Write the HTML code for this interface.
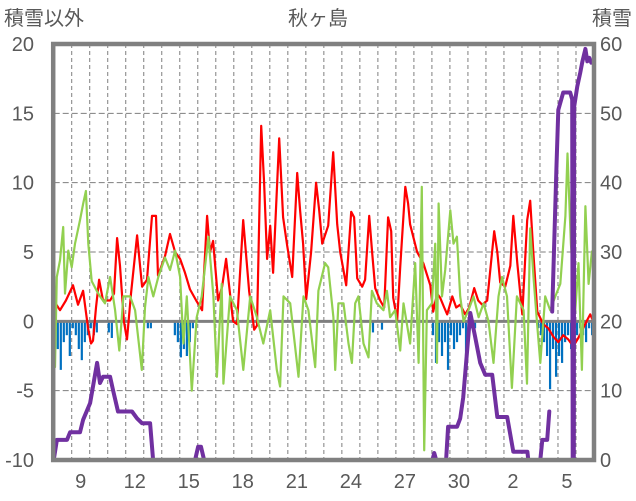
<!DOCTYPE html>
<html><head><meta charset="utf-8"><style>
body{margin:0;background:#fff;}
svg{display:block;font-family:"Liberation Sans","Noto Sans CJK JP",sans-serif;}
</style></head><body>
<svg id="chart" width="636" height="501" viewBox="0 0 636 501" xmlns="http://www.w3.org/2000/svg">
<text x="4" y="25" font-size="20" fill="#595959">積雪以外</text>
<text x="318" y="25" font-size="20" fill="#595959" text-anchor="middle">秋ヶ島</text>
<text x="632" y="25" font-size="20" fill="#595959" text-anchor="end">積雪</text>
<g id="grid"></g>
<g id="bars"></g>
<g id="lines"></g>
<g id="axes"></g>
</svg>
<script>
const xTickLabels = ["9","12","15","18","21","24","27","30","2","5"];
const xTickDays = [1,4,7,10,13,16,19,22,25,28];
const leftTicks = [20,15,10,5,0,-5,-10];
const rightTicks = [60,50,40,30,20,10,0];

const redDays = [0,0.35,0.68,1.07,1.35,1.63,1.91,2.07,2.18,2.35,2.52,2.74,3.13,3.35,3.52,3.68,3.9,4.07,4.29,4.63,4.91,5.18,5.46,5.68,5.79,6.18,6.46,6.74,7.02,7.29,7.57,7.91,8.24,8.52,8.68,8.85,9.13,9.35,9.57,9.79,9.96,10.18,10.52,10.85,11.13,11.29,11.52,11.68,11.85,12.02,12.18,12.52,12.74,12.96,13.24,13.52,13.68,13.85,14.02,14.29,14.57,14.74,14.91,15.24,15.52,15.74,15.91,16.24,16.52,16.68,16.85,17.13,17.29,17.52,17.68,17.85,18.13,18.35,18.57,18.74,18.85,19.07,19.24,19.52,19.68,19.79,20.18,20.52,20.91,21.07,21.29,21.46,21.68,21.85,22.13,22.35,22.57,22.85,23.07,23.35,23.57,23.79,24.07,24.46,24.63,24.79,25.07,25.35,25.52,25.74,26.02,26.29,26.46,26.63,26.85,27.18,27.46,27.74,28.02,28.29,28.57,28.85,29.13,29.4,29.63,29.79,29.96];
const redVals = [1.5,0.8,1.5,2.6,1.2,2.2,-0.5,-1.6,-1.4,1,3,1.5,1.5,2,6,4,0,-1.3,2,6.2,2.5,3,7.6,7.6,3.3,4.7,6.3,5,4.5,3.5,2.3,1.5,0.8,7.6,5,5.8,1.5,2.5,4.5,2,0,-0.2,7.3,2.2,-0.6,-0.3,14.1,10,4.5,6.9,3.5,13.2,7.5,5.5,3.2,10.7,8,5.6,1.6,5,10,8,5.6,6.9,12.2,7,5,2.6,7.9,7.5,3.1,2.5,3,7.6,5,2.4,1.5,1,7.5,6.5,1.7,0.1,3.9,9.7,8.5,7,5,4.2,2.6,0.7,2,1.7,1,0.5,1.8,1,1.2,0.5,1,2.4,1.5,1.2,1.5,6.5,5,2.8,2.5,4,7.6,4.2,0.5,7.3,8.7,5,0.7,-0.2,-0.5,-1.1,-1.5,-1,-1.3,-1.8,-1.2,-0.5,0.1,0.5,0];

const greenDays = [0,0.07,0.17,0.35,0.53,0.63,0.81,1.0,1.18,1.46,1.64,1.79,1.92,2.11,2.39,2.57,2.85,3.13,3.41,3.64,3.87,4.24,4.52,4.89,5.07,5.26,5.53,5.81,6.18,6.46,6.74,7.02,7.2,7.39,7.67,7.94,8.22,8.59,8.87,9.06,9.33,9.42,9.79,10.17,10.53,10.91,11.28,11.64,12.02,12.39,12.57,12.76,13.13,13.59,13.87,14.14,14.52,14.7,15.07,15.24,15.53,15.63,15.81,16.09,16.37,16.56,16.74,16.92,17.2,17.48,17.67,17.94,18.31,18.5,18.68,18.96,19.24,19.42,19.79,20.07,20.26,20.44,20.57,20.72,21.0,21.18,21.28,21.37,21.56,21.74,22.02,22.2,22.39,22.57,22.76,23.03,23.31,23.59,23.87,24.14,24.42,24.7,24.89,25.17,25.44,25.72,26.09,26.28,26.46,26.64,26.83,27.02,27.29,27.57,27.85,28.13,28.41,28.53,28.72,28.96,29.14,29.33,29.52,29.7,29.89];
const greenVals = [7.8,-3.3,3.2,4.4,6.8,2,5.1,3.9,5.6,7.3,8.5,9.4,5.6,2.9,2.2,1.8,1.3,3.2,0.8,-2.1,1.8,1.8,0.8,-3.5,1,3.2,1.8,3.2,4.6,3.7,5.1,3.2,-1.6,1.8,-5,0.3,1.8,6.1,1.8,-4,2.7,-4.5,1.8,0.8,-3.5,1.8,0.3,-1.6,0.8,-3.5,-4.7,1.8,1.3,-4,1.8,0.8,-3.3,2.2,4.2,3.9,0.3,-3.5,1.3,1.3,-1.6,-3,1.3,1.8,-1.6,-2.6,2.2,1.3,0.8,2.2,0.3,0.8,-2.1,1.3,-1.6,4.2,-3,9.7,-9.3,0.8,1.3,5.6,-3,8.5,1.8,3.7,8,5.6,6.1,1.8,0,0.8,1.8,0.3,1.3,0,-3,1.8,3.2,1.8,-4.8,1.8,0.8,-4.5,6.7,3.2,0,-3,1.8,0.8,1.8,2.7,7.6,12.1,5.6,0.8,4.2,-3.5,8.3,2.7,5.1];

const snowDays = [0,0.18,0.74,0.91,1.46,1.63,2.02,2.41,2.57,2.74,3.13,3.29,3.57,4.35,4.63,4.91,5.35,5.52,7.85,8.02,8.18,8.35,21.02,21.13,21.24,21.79,21.9,22.4,22.57,22.74,22.96,23.13,23.4,23.68,23.96,24.35,24.63,25.18,25.52,26.3,26.35,27.02,27.13,27.4,27.52,27.6,27.68,27.91,28.02,28.29,28.68,28.79,28.82,28.88,28.9,29.07,29.24,29.35,29.52,29.63,29.74,29.85];
const snowVals = [0,2.9,2.9,4,4,5.8,8.2,14,11.1,12,12,10.1,7,7,6,5.3,5.3,0,0,1.9,1.9,0,0,1,0,0,4.8,4.8,6,9,15.9,21.2,17.8,14,12.3,12.3,6.2,6.2,1.2,1.2,0,0,2.9,2.9,7,null,21.4,42,50.5,53,53,52,0,0,51,53.9,55.9,57.4,59.3,57.5,58,57.3];

const blueVals = [-1,-2,-3.5,-1.5,-1,-2.5,-0.5,-1,-2,-2.8,-1.5,-1,-0.5,-1,-0.8,0,0,0,-0.8,-1.2,0,0,0,0,0,0,0,0,0,0,0,-0.5,-0.5,0,0,0,0,0,0,0,-1,-1.5,-2.6,-2,-2.5,-1.5,-0.5,0,0,0,0,0,0,0,0,0,0,0,0,0,0,0,0,0,0,0,0,0,0,0,0,0,0,0,0,0,0,0,0,0,0,0,0,0,0,0,0,0,0,0,0,0,0,0,0,0,0,-0.3,0,0,0,0,0,0,0,0,-0.8,0,0,-0.6,0,0,0,0,0,0,0,0,0,0,0,0,0,0,0,0,-1,-3,-1.5,-2.5,-1.5,-3.5,-1,-2,-1.5,-1,-0.5,-2.5,-0.5,-0.5,-0.5,0,0,0,0,0,0,0,0,0,0,0,0,0,0,0,0,0,0,0,0,-0.5,-1,-1.5,-2.5,-4.9,-2,-4,-2.5,-3,-1.5,-1,-2,-1,-1,-0.5,-1,-1.5,-0.5,-1];

const X0=53.7, DAYW=18.01, YTOP=44, YBOT=460, XR=594;
const xS = d => X0 + d*DAYW;
const yL = v => YBOT - (v+10)*(YBOT-YTOP)/30;
const yR = v => YBOT - v*(YBOT-YTOP)/60;
const NS="http://www.w3.org/2000/svg";
function mk(tag, attrs, parent){const e=document.createElementNS(NS,tag);for(const k in attrs)e.setAttribute(k,attrs[k]);parent.appendChild(e);return e;}
const grid=document.getElementById('grid'), bars=document.getElementById('bars'), lines=document.getElementById('lines'), axes=document.getElementById('axes');

for(let k=1;k<30;k++){
  const l=mk('line',{x1:xS(k),x2:xS(k),y1:YTOP,y2:YBOT,stroke:'#7f7f7f','stroke-width':1,'stroke-dasharray':'4,3'},grid);
  
  
}
leftTicks.forEach(v=>{
  if(v!==0 && v!==20 && v!==-10){
    const l=mk('line',{x1:X0,x2:XR,y1:yL(v),y2:yL(v),stroke:'#7f7f7f','stroke-width':1,'stroke-dasharray':'6,3'},grid);
    
    
  }
  const t=mk('text',{x:34,y:yL(v)+7,'font-size':20,fill:'#595959','text-anchor':'end'},axes);
  t.textContent=v;
  
  
});
rightTicks.forEach(v=>{
  const t=mk('text',{x:600,y:yR(v)+7,'font-size':20,fill:'#595959'},axes);
  t.textContent=v;
  
  
});
xTickLabels.forEach((s,i)=>{
  const t=mk('text',{x:xS(xTickDays[i]+0.5),y:488,'font-size':20,fill:'#595959','text-anchor':'middle'},axes);
  t.textContent=s;
  
  
});

blueVals.forEach((v,i)=>{
  if(v===0) return;
  const x=xS(i/6), y0=yL(0), y1=yL(v);
  const r=mk('rect',{x:x,y:y0,width:2.2,height:y1-y0,fill:'#0070c0'},bars);
  
  
});

function path(days, vals, ys){
  let d='', pen=false;
  days.forEach((t,i)=>{
    const v=vals[i];
    if(v===null){pen=false;return;}
    d+=(pen?'L':'M')+xS(t).toFixed(1)+','+ys(v).toFixed(1)+' ';
    pen=true;
  });
  return d;
}
const zero=mk('line',{x1:X0,x2:XR,y1:yL(0),y2:yL(0),stroke:'#7f7f7f','stroke-width':3},lines);


const red=mk('path',{d:path(redDays,redVals,yL),fill:'none',stroke:'#ff0000','stroke-width':2.2,'stroke-linejoin':'round'},lines);


const green=mk('path',{d:path(greenDays,greenVals,yL),fill:'none',stroke:'#92d050','stroke-width':2.2,'stroke-linejoin':'round'},lines);


const snow=mk('path',{d:path(snowDays,snowVals,yR),fill:'none',stroke:'#7030a0','stroke-width':4,'stroke-linejoin':'round','stroke-linecap':'round'},lines);



const frame=mk('rect',{x:X0-0.5,y:YTOP,width:XR-X0+0.5,height:YBOT-YTOP,fill:'none',stroke:'#808080','stroke-width':4.5},axes);


</script>
</body></html>
